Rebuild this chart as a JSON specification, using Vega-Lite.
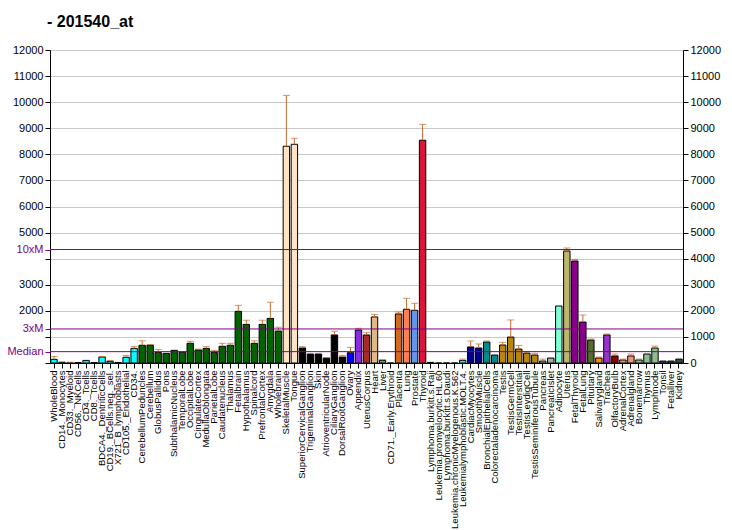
{
  "$schema": "https://vega.github.io/schema/vega-lite/v6.json",
  "autosize": "none",
  "width": 633,
  "height": 313,
  "padding": {"left": 50, "top": 50, "right": 49, "bottom": 167},
  "background": "white",
  "title": {"text": "- 201540_at", "anchor": "start", "frame": "group", "fontSize": 16, "font": "Liberation Sans", "fontWeight": "bold", "color": "black", "offset": 14, "dx": -3},
  "datasets": {
    "expr": [
      {"n": "WholeBlood", "v": 140, "e": 250, "t": "blood"},
      {"n": "CD14._Monocytes", "v": 30, "e": 30, "t": "blood"},
      {"n": "CD33._Myeloid", "v": 10, "e": 30, "t": "blood"},
      {"n": "CD56._NKCells", "v": 20, "e": 20, "t": "blood"},
      {"n": "CD4._Tcells", "v": 100, "e": 100, "t": "blood"},
      {"n": "CD8._Tcells", "v": 20, "e": 20, "t": "blood"},
      {"n": "BDCA4._DentriticCells", "v": 230, "e": 250, "t": "blood"},
      {"n": "CD19._BCells.neg._sel.", "v": 65, "e": 100, "t": "blood"},
      {"n": "X721_B_lymphoblasts", "v": 20, "e": 20, "t": "blood"},
      {"n": "CD105._Endothelial", "v": 220, "e": 290, "t": "blood"},
      {"n": "CD34.", "v": 560, "e": 630, "t": "blood"},
      {"n": "CerebellumPeduncles", "v": 680, "e": 850, "t": "brain"},
      {"n": "Cerebellum", "v": 680, "e": 710, "t": "brain"},
      {"n": "GlobusPallidus", "v": 400, "e": 520, "t": "brain"},
      {"n": "Pons", "v": 370, "e": 370, "t": "brain"},
      {"n": "SubthalamicNucleus", "v": 485, "e": 485, "t": "brain"},
      {"n": "TemporalLobe", "v": 410, "e": 440, "t": "brain"},
      {"n": "OccipitalLobe", "v": 755, "e": 830, "t": "brain"},
      {"n": "CingulateCortex", "v": 500, "e": 535, "t": "brain"},
      {"n": "MedullaOblongata", "v": 560, "e": 630, "t": "brain"},
      {"n": "ParietalLobe", "v": 400, "e": 485, "t": "brain"},
      {"n": "Caudatenucleus", "v": 640, "e": 755, "t": "brain"},
      {"n": "Thalamus", "v": 680, "e": 755, "t": "brain"},
      {"n": "Fetalbrain", "v": 1980, "e": 2210, "t": "brain"},
      {"n": "Hypothalamus", "v": 1480, "e": 1640, "t": "brain"},
      {"n": "Spinalcord", "v": 755, "e": 850, "t": "brain"},
      {"n": "PrefrontalCortex", "v": 1480, "e": 1640, "t": "brain"},
      {"n": "Amygdala", "v": 1710, "e": 2330, "t": "brain"},
      {"n": "Wholebrain", "v": 1225, "e": 1370, "t": "brain"},
      {"n": "SkeletalMuscle", "v": 8310, "e": 10260, "t": "muscle"},
      {"n": "Tongue", "v": 8385, "e": 8615, "t": "muscle"},
      {"n": "SuperiorCervicalGanglion", "v": 575, "e": 625, "t": "ganglion"},
      {"n": "TrigeminalGanglion", "v": 345, "e": 345, "t": "ganglion"},
      {"n": "Skin", "v": 345, "e": 345, "t": "ganglion"},
      {"n": "AtrioventricularNode", "v": 190, "e": 205, "t": "ganglion"},
      {"n": "CiliaryGanglion", "v": 1075, "e": 1215, "t": "ganglion"},
      {"n": "DorsalRootGanglion", "v": 230, "e": 295, "t": "ganglion"},
      {"n": "Ovary", "v": 395, "e": 600, "t": "ovary"},
      {"n": "Appendix", "v": 1265, "e": 1330, "t": "appendix"},
      {"n": "UterusCorpus", "v": 1075, "e": 1175, "t": "uteruscorpus"},
      {"n": "Heart", "v": 1765, "e": 1865, "t": "heart"},
      {"n": "Liver", "v": 100, "e": 130, "t": "liver"},
      {"n": "CD71._Early.Erythroid", "v": 0, "e": 0, "t": "cd71"},
      {"n": "Placenta", "v": 1880, "e": 1955, "t": "placenta"},
      {"n": "Lung", "v": 2060, "e": 2480, "t": "lung"},
      {"n": "Prostate", "v": 2020, "e": 2290, "t": "prostate"},
      {"n": "Thyroid", "v": 8540, "e": 9150, "t": "thyroid"},
      {"n": "Lymphoma.burkitt.s.Raji", "v": 25, "e": 25, "t": "cellline"},
      {"n": "Leukemia.promyelocytic.HL.60", "v": 0, "e": 0, "t": "cellline"},
      {"n": "Lymphoma.burkitt.s.Daudi", "v": 0, "e": 0, "t": "cellline"},
      {"n": "Leukemia.chronicMyelogenous.K.562", "v": 0, "e": 0, "t": "cellline"},
      {"n": "Leukemialymphoblastic.MOLT.4.", "v": 100, "e": 150, "t": "cellline"},
      {"n": "CardiacMyocytes", "v": 615, "e": 845, "t": "cardiac"},
      {"n": "SmoothMuscle", "v": 575, "e": 730, "t": "cardiac"},
      {"n": "BronchialEpithelialCells", "v": 805, "e": 845, "t": "bronchial"},
      {"n": "Colorectaladenocarcinoma", "v": 305, "e": 305, "t": "bronchial"},
      {"n": "Testis", "v": 690, "e": 790, "t": "testis"},
      {"n": "TestisGermCell", "v": 995, "e": 1650, "t": "testis"},
      {"n": "TestisInterstitial", "v": 535, "e": 675, "t": "testis"},
      {"n": "TestisLeydigCell", "v": 380, "e": 445, "t": "testis"},
      {"n": "TestisSeminiferousTubule", "v": 305, "e": 370, "t": "testis"},
      {"n": "Pancreas", "v": 75, "e": 150, "t": "pancreas"},
      {"n": "PancreaticIslet", "v": 190, "e": 190, "t": "pancreas"},
      {"n": "Adipocyte", "v": 2185, "e": 2185, "t": "adipocyte"},
      {"n": "Uterus", "v": 4295, "e": 4410, "t": "uterus"},
      {"n": "FetalThyroid", "v": 3910, "e": 3975, "t": "fetal"},
      {"n": "FetalLung", "v": 1570, "e": 1840, "t": "fetal"},
      {"n": "Pituitary", "v": 880, "e": 920, "t": "pituitary"},
      {"n": "Salivarygland", "v": 190, "e": 230, "t": "salivary"},
      {"n": "Trachea", "v": 1075, "e": 1110, "t": "trachea"},
      {"n": "OlfactoryBulb", "v": 270, "e": 345, "t": "olfactory"},
      {"n": "AdrenalCortex", "v": 115, "e": 150, "t": "adrenal"},
      {"n": "Adrenalgland", "v": 270, "e": 345, "t": "adrenal"},
      {"n": "Bonemarrow", "v": 115, "e": 150, "t": "immune"},
      {"n": "Thymus", "v": 345, "e": 345, "t": "immune"},
      {"n": "Lymphnode", "v": 575, "e": 650, "t": "immune"},
      {"n": "Tonsil", "v": 75, "e": 75, "t": "tonsil"},
      {"n": "Fetalliver", "v": 75, "e": 75, "t": "kidney"},
      {"n": "Kidney", "v": 150, "e": 150, "t": "kidney"}
    ],
    "marks": [
      {"k": "Median", "v": 435},
      {"k": "3xM", "v": 1305},
      {"k": "10xM", "v": 4350}
    ]
  },
  "config": {
    "view": {"stroke": null},
    "axis": {"labelFont": "Liberation Sans", "labelFontSize": 11, "labelColor": "black", "domainColor": "black", "tickColor": "black", "tickSize": 5, "title": null},
    "axisX": {"labelAngle": 270, "labelFontSize": 9.5, "labelOverlap": false, "labelPadding": 2, "grid": false, "labelLimit": 0, "domainColor": "black"}
  },
  "resolve": {"axis": {"y": "independent"}},
  "layer": [
    {
      "data": {"name": "expr"},
      "mark": {"type": "bar", "stroke": "black", "strokeWidth": 1},
      "encoding": {
        "x": {"field": "n", "type": "nominal", "sort": null, "title": null, "scale": {"paddingInner": 0.2, "paddingOuter": 0.1}},
        "y": {"field": "v", "type": "quantitative", "scale": {"domain": [0, 12000], "nice": false},
          "axis": {"orient": "left", "values": [0,1000,2000,3000,4000,5000,6000,7000,8000,9000,10000,11000,12000], "labelExpr": "(datum.value==0||datum.value==1000||datum.value==4000) ? '' : datum.value + ''", "grid": true, "gridColor": "#C8C8C8", "gridWidth": 1}},
        "color": {"field": "t", "type": "nominal", "legend": null,
          "scale": {
            "domain": ["blood","brain","muscle","ganglion","ovary","appendix","uteruscorpus","heart","liver","cd71","placenta","lung","prostate","thyroid","cellline","cardiac","bronchial","testis","pancreas","adipocyte","uterus","fetal","pituitary","salivary","trachea","olfactory","adrenal","immune","tonsil","kidney"],
            "range": ["#00FFFF","#006400","#FFE4C4","#000000","#0000FF","#8A2BE2","#A52A2A","#DEB887","#5F9EA0","#7FFF00","#D2691E","#FF7F50","#6495ED","#DC143C","#00FFFF","#00008B","#008B8B","#B8860B","#A9A9A9","#7FFFD4","#BDB76B","#8B008B","#556B2F","#FF8C00","#9932CC","#8B0000","#E9967A","#8FBC8F","#483D8B","#2F4F4F"]
          }}
      }
    },
    {
      "data": {"name": "expr"},
      "mark": {"type": "rule", "color": "#C8692E", "strokeWidth": 1},
      "encoding": {
        "x": {"field": "n", "type": "nominal", "sort": null, "title": null},
        "y": {"field": "v", "type": "quantitative", "scale": {"domain": [0, 12000], "nice": false},
          "axis": {"orient": "right", "values": [0,1000,2000,3000,4000,5000,6000,7000,8000,9000,10000,11000,12000], "format": "d", "grid": false}},
        "y2": {"field": "e"}
      }
    },
    {
      "data": {"name": "expr"},
      "transform": [{"filter": "datum.e > datum.v"}],
      "mark": {"type": "tick", "color": "#C8692E", "thickness": 1, "size": 7},
      "encoding": {
        "x": {"field": "n", "type": "nominal", "sort": null, "title": null},
        "y": {"field": "e", "type": "quantitative", "scale": {"domain": [0, 12000], "nice": false}, "axis": null}
      }
    },
    {
      "data": {"name": "marks"},
      "mark": {"type": "rule", "color": "#800080", "strokeWidth": 1},
      "encoding": {
        "y": {"field": "v", "type": "quantitative", "scale": {"domain": [0, 12000], "nice": false},
          "axis": {"orient": "left", "values": [435, 1305, 4350], "labelExpr": "datum.value==435 ? 'Median' : datum.value==1305 ? '3xM' : '10xM'", "labelColor": "#800080", "tickColor": "#800080", "domain": false, "grid": false}}
      }
    }
  ]
}
